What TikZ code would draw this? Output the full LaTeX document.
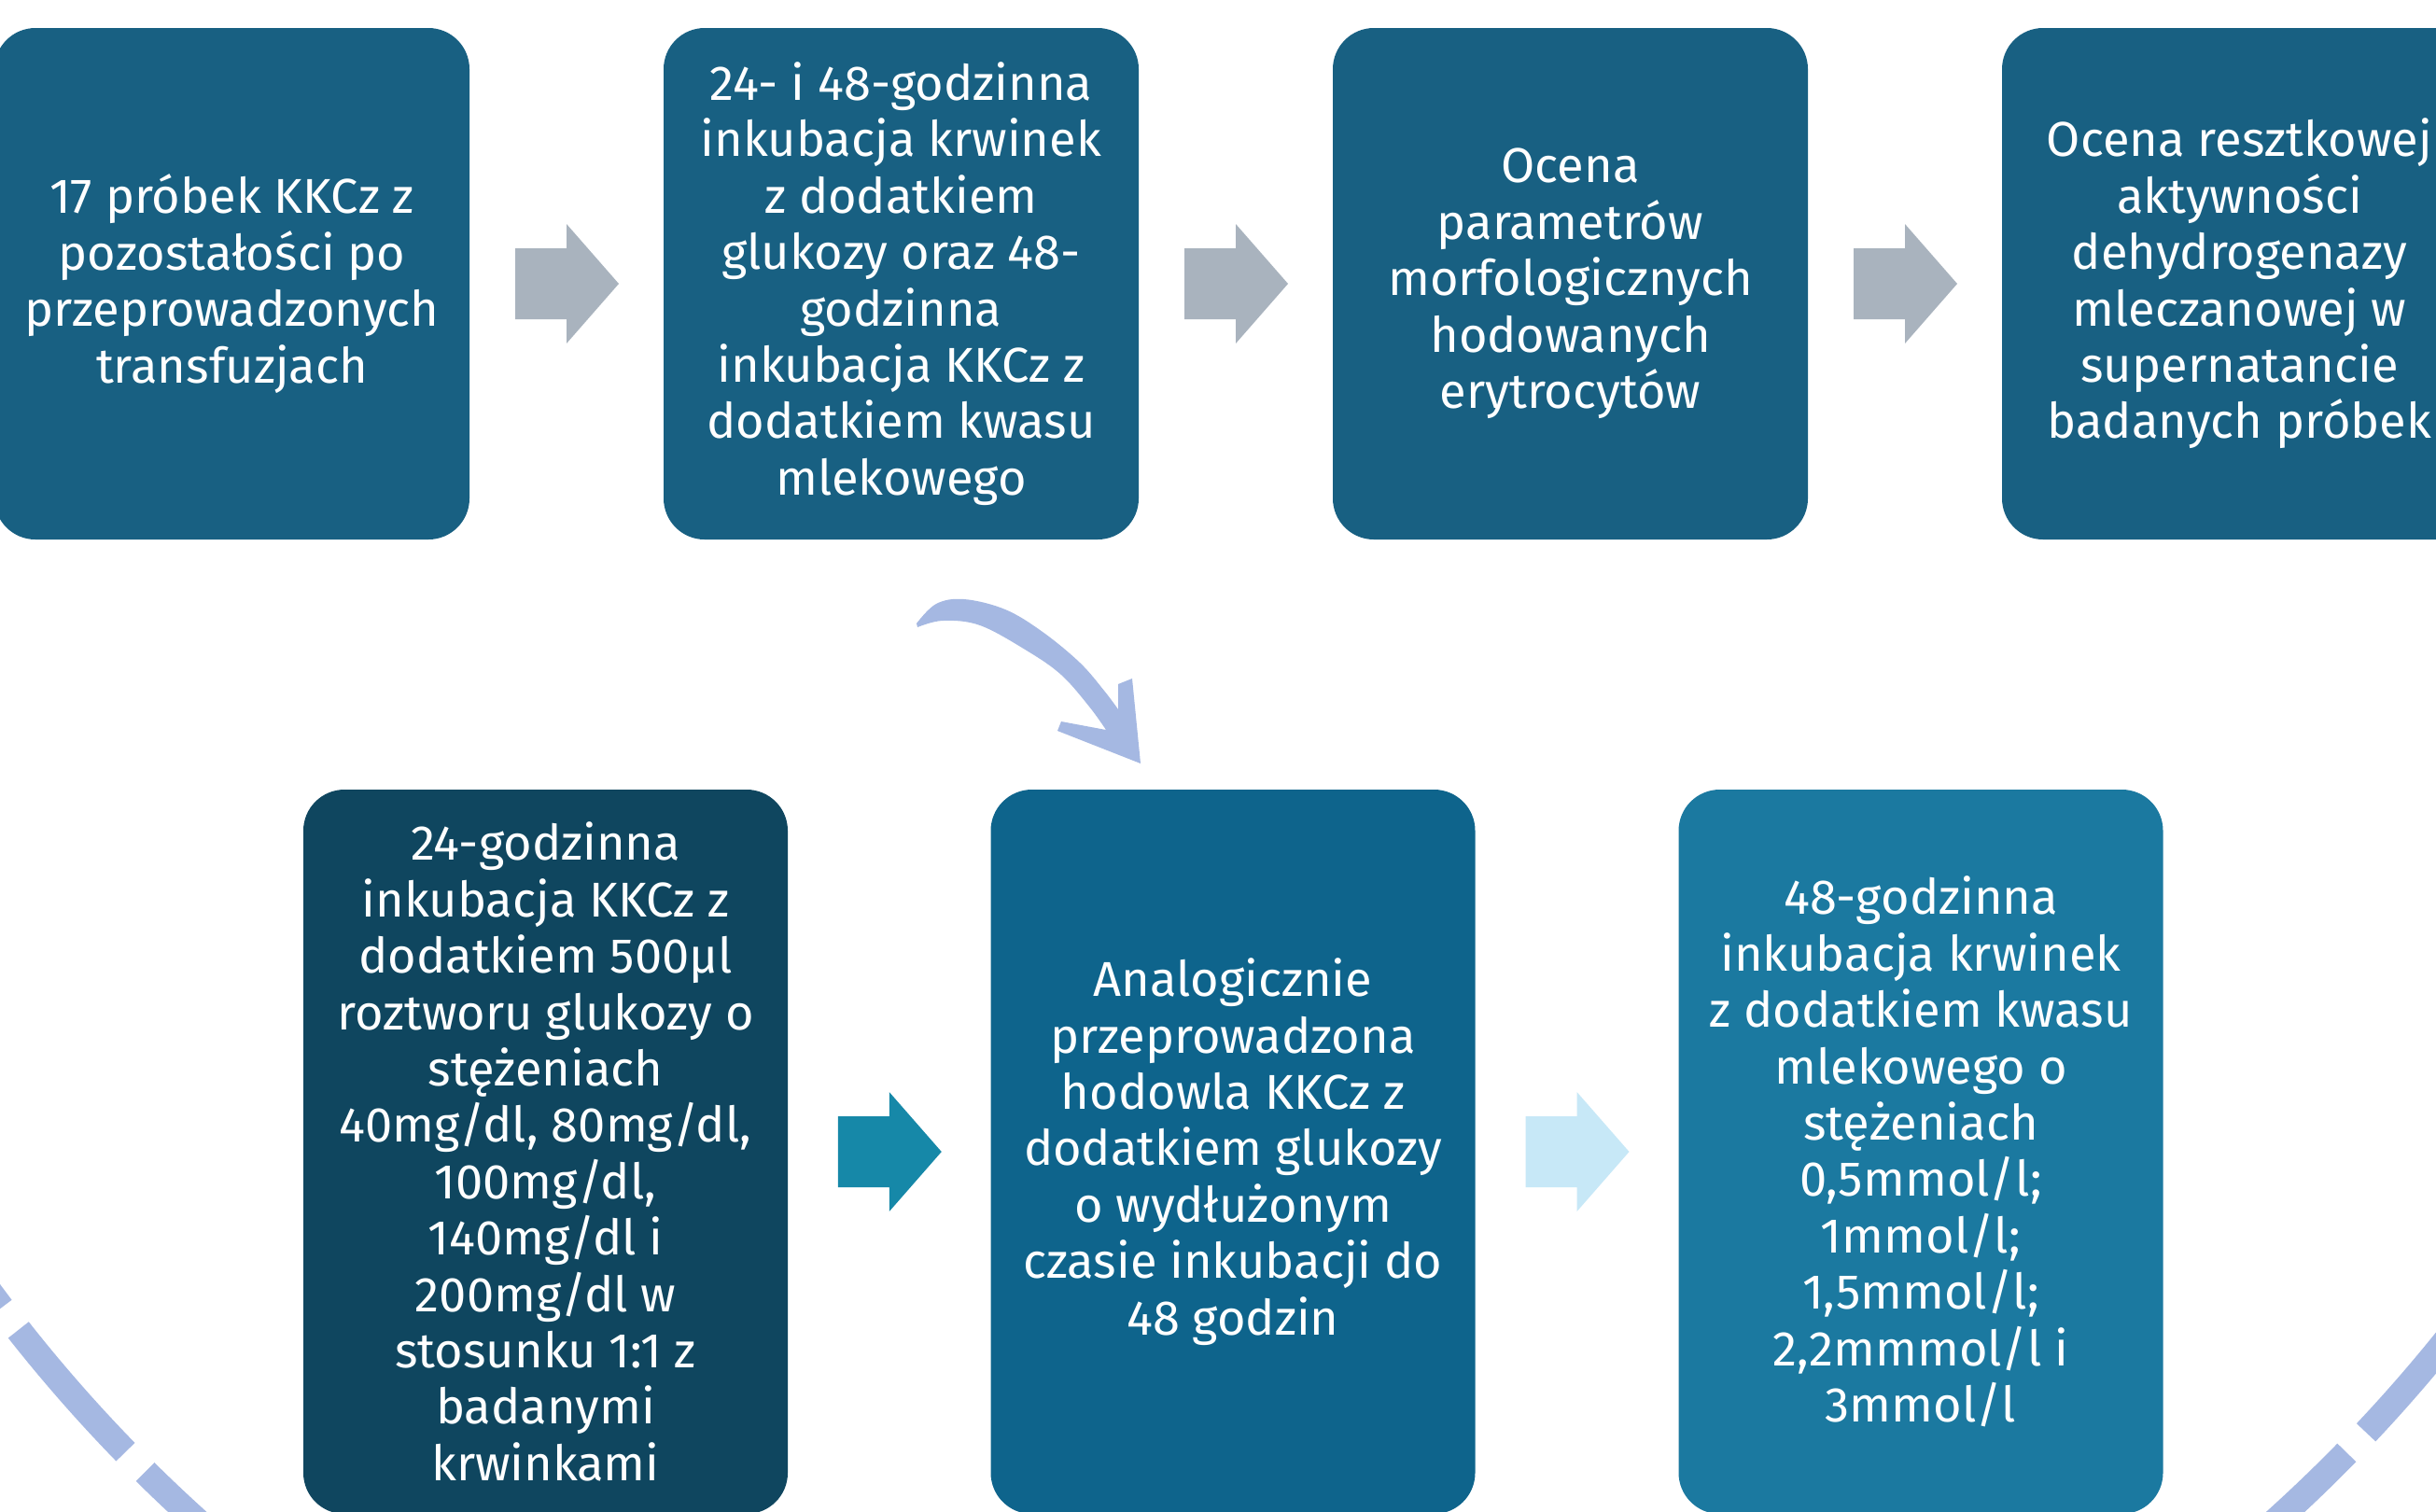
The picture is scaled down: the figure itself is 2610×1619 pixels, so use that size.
\documentclass[tikz,border=0pt]{standalone}
\usepackage{fontspec}
\setmainfont{Fira Sans}
\usetikzlibrary{calc}
\definecolor{topbox}{HTML}{186082}
\definecolor{boxA}{HTML}{0F465F}
\definecolor{boxB}{HTML}{0E648C}
\definecolor{boxC}{HTML}{1B79A0}
\definecolor{grayarrow}{HTML}{A9B3BE}
\definecolor{tealarrow}{HTML}{1688A8}
\definecolor{lightarrow}{HTML}{C7E8F7}
\definecolor{lav}{HTML}{A5B8E2}
\newcommand\blockarrow[2]{\fill[#2] ([shift={(-55,-38)}]#1) -- ++(55,0) -- ++(0,-26) -- ++(56,64) -- ++(-56,64) -- ++(0,-26) -- ++(-55,0) -- cycle;}
\begin{document}
\begin{tikzpicture}[x=0.5pt,y=-0.5pt,
  box/.style={rounded corners=22pt, align=center, text=white, inner sep=0pt,
    font=\fontsize{26.2}{30.2}\selectfont},
  topb/.style={box, fill=topbox, minimum width=254.5pt, minimum height=274pt},
  botb/.style={box, minimum width=259.5pt, minimum height=388pt},
  dashc/.style={draw=lav, line width=14pt, dash pattern=on 87pt off 15pt, dash phase=83.5pt}]
\useasboundingbox (0,0) rectangle (2610,1619);
\clip (0,0) rectangle (2610,1619);
\fill[white] (0,0) rectangle (2610,1619);
% dashed circle
\coordinate (cc) at (1325,394);
\draw[dashc] ([shift={(150:1663)}]cc) arc[start angle=150, end angle=30, radius=1663];
% top row
\node[topb] (b1) at (248.5,304) {17 próbek KKCz z\\pozostałości po\\przeprowadzonych\\transfuzjach};
\node[topb] (b2) at (965.5,304) {24- i 48-godzinna\\inkubacja krwinek\\z dodatkiem\\glukozy oraz 48-\\godzinna\\inkubacja KKCz z\\dodatkiem kwasu\\mlekowego};
\node[topb] (b3) at (1682.5,304) {Ocena\\parametrów\\morfologicznych\\hodowanych\\erytrocytów};
\node[topb] (b4) at (2399.5,304) {Ocena resztkowej\\aktywności\\dehydrogenazy\\mleczanowej w\\supernatancie\\badanych próbek};
% bottom row
\node[botb, fill=boxA] (b5) at (584.5,1234) {24-godzinna\\inkubacja KKCz z\\dodatkiem 500µl\\roztworu glukozy o\\stężeniach\\40mg/dl, 80mg/dl,\\100mg/dl,\\140mg/dl i\\200mg/dl w\\stosunku 1:1 z\\badanymi\\krwinkami};
\node[botb, fill=boxB] (b6) at (1321,1234) {Analogicznie\\przeprowadzona\\hodowla KKCz z\\dodatkiem glukozy\\o wydłużonym\\czasie inkubacji do\\48 godzin};
\node[botb, fill=boxC] (b7) at (2058,1234) {48-godzinna\\inkubacja krwinek\\z dodatkiem kwasu\\mlekowego o\\stężeniach\\0,5mmol/l;\\1mmol/l;\\1,5mmol/l;\\2,2mmmol/l i\\3mmol/l};
% block arrows
\coordinate (a1) at ($(b1.east)!0.5!(b2.west)$);
\coordinate (a2) at ($(b2.east)!0.5!(b3.west)$);
\coordinate (a3) at ($(b3.east)!0.5!(b4.west)$);
\coordinate (a4) at ($(b5.east)!0.5!(b6.west)$);
\coordinate (a5) at ($(b6.east)!0.5!(b7.west)$);
\blockarrow{a1}{grayarrow}
\blockarrow{a2}{grayarrow}
\blockarrow{a3}{grayarrow}
\blockarrow{a4}{tealarrow}
\blockarrow{a5}{lightarrow}
% curved brush arrow
\fill[lav] plot[smooth, tension=0.6] coordinates {(982,668) (1003,647) (1033,642) (1077,653) (1117,677) (1157,710) (1183,740) (1198,760)}
  -- (1198,733) -- (1213,727) -- (1222,818) -- (1133,783) -- (1137,773)
  -- plot[smooth, tension=0.6] coordinates {(1185,782) (1167,757) (1137,723) (1100,697) (1050,670) (1010,665) (983,672)} -- cycle;
\end{tikzpicture}
\end{document}
